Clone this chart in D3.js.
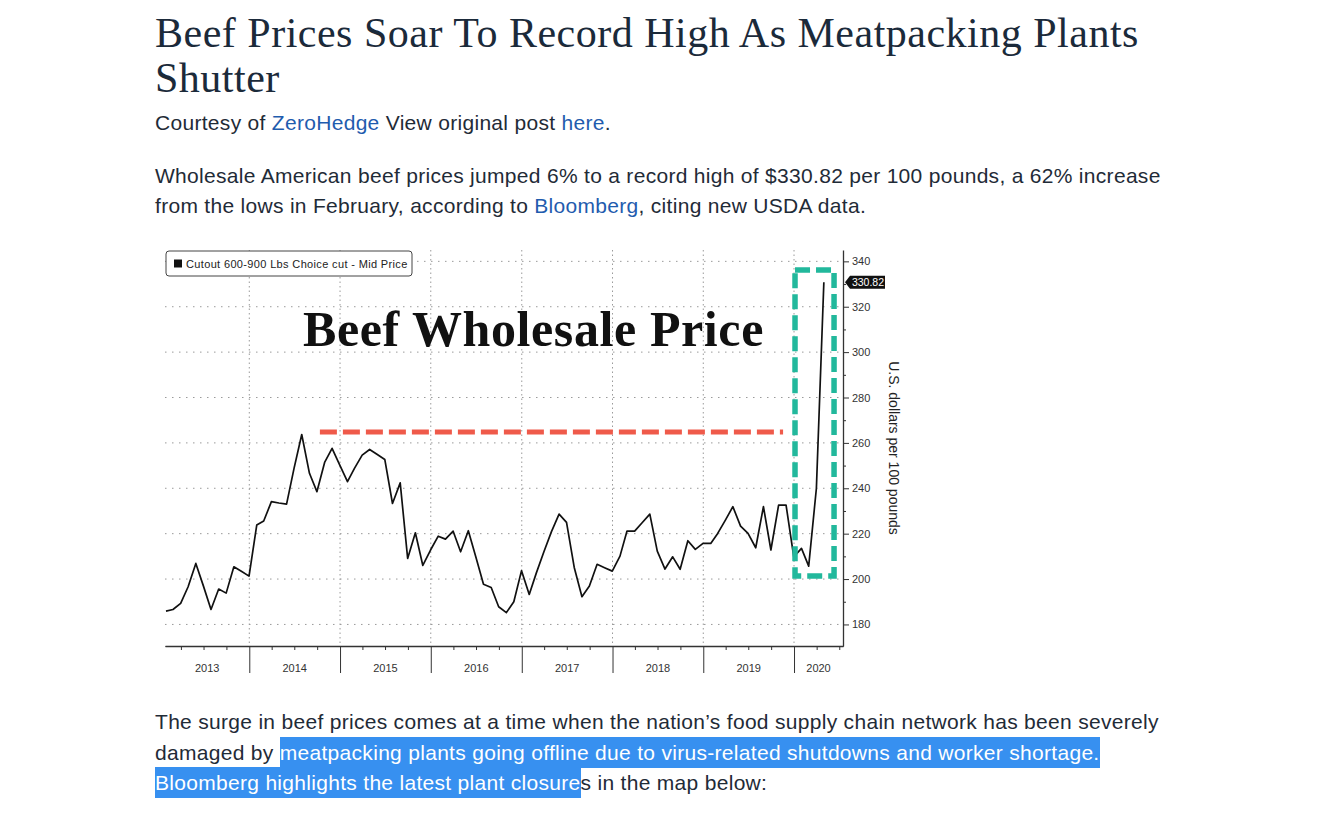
<!DOCTYPE html>
<html>
<head>
  <meta charset="utf-8">
  <script src="https://cdn.jsdelivr.net/npm/d3@7"></script>
  <style>
    body {
      margin: 0;
      background: #fff;
      width: 1337px;
      height: 833px;
      position: relative;
      overflow: hidden;
    }
    .txt {
      position: absolute;
      left: 155px;
      white-space: nowrap;
      font-family: "Liberation Sans", Arial, sans-serif;
      font-size: 21px;
      letter-spacing: 0.3px;
      line-height: 30px;
      color: #1f2b37;
    }
    .head {
      font-family: "Liberation Serif", serif;
      font-size: 42px;
      letter-spacing: 0.5px;
      line-height: 45px;
      color: #1b2a3a;
    }
    a { color: #1f5cae; text-decoration: none; }
    .sel { background: #3790f0; color: #fff; padding: 4px 0; }
    svg { position: absolute; left: 0; top: 0; }
    .grid { stroke: #9a9a9a; stroke-width: 1; stroke-dasharray: 1.5, 5.5; fill: none; }
    .vgrid { stroke: #9a9a9a; stroke-width: 1; stroke-dasharray: 1.5, 3; fill: none; }
    .axis text { font-family: "Liberation Sans", Arial, sans-serif; font-size: 10.5px; fill: #333; }
    .axis path, .axis line { stroke: #333; }
  </style>
</head>
<body>
<script>
const W = 1337;
const H = 833;

// monthly mid price, month-end readings
const prices2013 = [185.9, 186.6, 189.3, 196.6, 206.9, 197.1, 186.6, 195.6, 193.8, 205.4, 203.4, 201.3];
const prices2014 = [223.8, 225.6, 234.1, 233.5, 233.0, 248.8, 263.7, 246.6, 238.5, 251.4, 257.6, 250.2];
const prices2015 = [242.9, 248.8, 254.6, 257.1, 254.9, 252.7, 233.3, 242.4, 209.1, 220.4, 206.0, 212.8];
const prices2016 = [218.9, 217.6, 221.1, 212.0, 221.3, 209.8, 197.7, 196.3, 187.8, 185.2, 190.0, 203.7];
const prices2017 = [193.2, 202.5, 212.0, 220.8, 228.6, 225.0, 205.1, 192.2, 196.9, 206.5, 205.0, 203.5];
const prices2018 = [210.1, 221.1, 221.1, 224.8, 228.6, 212.3, 204.4, 209.8, 204.3, 216.9, 213.1, 215.7];
const prices2019 = [215.7, 220.1, 226.0, 231.9, 223.3, 220.1, 213.8, 231.9, 212.8, 232.6, 232.6, 209.8];
const prices2020 = [213.5, 205.7, 240.0, 330.82];

const years = [2013, 2014, 2015, 2016, 2017, 2018, 2019, 2020];
const yTicks = [180, 200, 220, 240, 260, 280, 300, 320, 340];
const yMinor = [190, 210, 230, 250, 270, 290, 310, 330];
const lastValue = 330.82;
const legendLabel = "Cutout 600-900 Lbs Choice cut - Mid Price";
const yTitle = "U.S. dollars per 100 pounds";
const chartTitle = "Beef Wholesale Price";

// annotations (in data terms)
const resistDates = ["2014-10-12", "2019-11-18"];
const resistValue = 264.8;
const boxDates = ["2020-01-05", "2020-06-10"];
const boxValues = [201.3, 336.2];

const allPrices = [prices2013, prices2014, prices2015, prices2016,
                   prices2017, prices2018, prices2019, prices2020];
let data = [];
allPrices.forEach((arr, i) => {
  arr.forEach((v, m) => {
    // last day of the month
    data.push({ date: new Date(years[i], m + 1, 0), value: v });
  });
});

/* ---------- article text ---------- */
const body = d3.select("body");

body.append("div").attr("class", "txt head").style("top", "11px")
  .html("Beef Prices Soar To Record High As Meatpacking Plants<br>Shutter");

body.append("div").attr("class", "txt").style("top", "108px")
  .html('Courtesy of <a>ZeroHedge</a> View original post <a>here</a>.');

body.append("div").attr("class", "txt").style("top", "161px")
  .html('Wholesale American beef prices jumped 6% to a record high of $330.82 per 100 pounds, a 62% increase<br>' +
        'from the lows in February, according to <a>Bloomberg</a>, citing new USDA data.');

body.append("div").attr("class", "txt").style("top", "707px").style("line-height", "30.5px")
  .html('The surge in beef prices comes at a time when the nation\u2019s food supply chain network has been severely<br>' +
        'damaged by <span class="sel">meatpacking plants going offline due to virus-related shutdowns and worker shortage.</span><br>' +
        '<span class="sel">Bloomberg highlights the latest plant closure</span>s in the map below:');

/* ---------- chart ---------- */
const svg = body.append("svg")
  .attr("width", W)
  .attr("height", H);

const x = d3.scaleTime()
  .domain([new Date(2013, 0, 27), new Date(2020, 6, 16)])
  .range([165, 843]);

const y = d3.scaleLinear()
  .domain([170.5, 345])
  .range([646, 250]);

const [x0, x1] = x.range();
const [yb, yt] = y.range();

// horizontal dotted grid
svg.append("g").selectAll("line").data(yTicks).join("line")
  .attr("class", "grid")
  .attr("x1", x0).attr("x2", x1)
  .attr("y1", d => y(d)).attr("y2", d => y(d));

// vertical dotted grid at year starts
const yearStarts = years.slice(1).map(yr => new Date(yr, 0, 1));
svg.append("g").selectAll("line").data(yearStarts).join("line")
  .attr("class", "vgrid")
  .attr("x1", d => x(d)).attr("x2", d => x(d))
  .attr("y1", yt).attr("y2", yb);

// bottom axis: quarter ticks
const quarters = d3.timeMonth.every(3).range(new Date(2013, 3, 1), x.domain()[1])
  .filter(d => d.getMonth() !== 0);
svg.append("g").attr("class", "axis")
  .attr("transform", "translate(0," + yb + ")")
  .call(d3.axisBottom(x).tickValues(quarters).tickSize(4).tickSizeOuter(0).tickFormat(""))
  .call(g => g.selectAll(".tick line").attr("stroke", "#666"));

// bottom axis: year separators
svg.append("g").attr("class", "axis")
  .attr("transform", "translate(0," + yb + ")")
  .call(d3.axisBottom(x).tickValues(yearStarts).tickSize(27).tickSizeOuter(0).tickFormat(""))
  .call(g => g.select(".domain").attr("stroke", "#222").attr("stroke-width", 1.3))
  .call(g => g.selectAll(".tick line").attr("stroke", "#888"));

// year labels centred in their visible span
svg.append("g").attr("class", "axis").selectAll("text").data(years).join("text")
  .attr("x", yr => {
    const a = Math.max(x(new Date(yr, 0, 1)), x0);
    const b = Math.min(x(new Date(yr + 1, 0, 1)), x1);
    return (a + b) / 2;
  })
  .attr("y", yb + 26)
  .attr("text-anchor", "middle")
  .style("font-size", "11px")
  .text(d => d);

// right axis
svg.append("g").attr("class", "axis")
  .attr("transform", "translate(" + x1 + ",0)")
  .call(d3.axisRight(y).tickValues(yMinor).tickSize(3).tickSizeOuter(0).tickFormat(""))
  .call(g => g.select(".domain").remove());

svg.append("g").attr("class", "axis")
  .attr("transform", "translate(" + x1 + ",0)")
  .call(d3.axisRight(y).tickValues(yTicks).tickSize(6).tickPadding(3).tickSizeOuter(0))
  .call(g => g.select(".domain").attr("stroke", "#222").attr("stroke-width", 1.3))
  .call(g => g.selectAll("text").style("font-size", "11px"));

// y axis title
svg.append("text")
  .attr("transform", "translate(889," + ((yt + yb) / 2) + ") rotate(90)")
  .attr("text-anchor", "middle")
  .style("font-family", "Liberation Sans, Arial, sans-serif")
  .style("font-size", "14px")
  .attr("fill", "#222")
  .text(yTitle);

// price line
const line = d3.line()
  .x(d => x(d.date))
  .y(d => y(d.value));

svg.append("path")
  .datum(data)
  .attr("d", line)
  .attr("fill", "none")
  .attr("stroke", "#111")
  .attr("stroke-width", 1.7)
  .attr("stroke-linejoin", "round");

// red dashed resistance line
svg.append("line")
  .attr("x1", x(new Date(resistDates[0]))).attr("x2", x(new Date(resistDates[1])))
  .attr("y1", y(resistValue)).attr("y2", y(resistValue))
  .attr("stroke", "#ef5a4a")
  .attr("stroke-width", 5)
  .attr("stroke-dasharray", "17,6");

// teal dashed box
const bx0 = x(new Date(boxDates[0])), bx1 = x(new Date(boxDates[1]));
const by0 = y(boxValues[1]), by1 = y(boxValues[0]);
svg.append("rect")
  .attr("x", bx0).attr("y", by0)
  .attr("width", bx1 - bx0).attr("height", by1 - by0)
  .attr("fill", "none")
  .attr("stroke", "#22b89c")
  .attr("stroke-width", 5.5)
  .attr("stroke-dasharray", "15,6");

// last value tag
const ty = y(lastValue);
svg.append("path")
  .attr("d", `M${x1 + 2},${ty} L${x1 + 7},${ty - 6.5} L${x1 + 42},${ty - 6.5} L${x1 + 42},${ty + 6.5} L${x1 + 7},${ty + 6.5} Z`)
  .attr("fill", "#111");
svg.append("text")
  .attr("x", x1 + 25).attr("y", ty + 3.8)
  .attr("text-anchor", "middle")
  .style("font-family", "Liberation Sans, Arial, sans-serif")
  .style("font-size", "10.5px")
  .attr("fill", "#fff")
  .text(lastValue.toFixed(2));

// legend
const lg = svg.append("g").attr("transform", "translate(166,251)");
lg.append("rect")
  .attr("width", 246).attr("height", 25).attr("rx", 3)
  .attr("fill", "#fff").attr("stroke", "#444").attr("stroke-width", 1);
lg.append("rect")
  .attr("x", 8).attr("y", 8.5).attr("width", 8).attr("height", 8)
  .attr("fill", "#111");
lg.append("text")
  .attr("x", 20).attr("y", 16.8)
  .style("font-family", "Liberation Sans, Arial, sans-serif")
  .style("font-size", "11px")
  .style("letter-spacing", "0.35px")
  .attr("fill", "#222")
  .text(legendLabel);

// big chart title
svg.append("text")
  .attr("x", 303).attr("y", 346)
  .style("font-family", "Liberation Serif, serif")
  .style("font-weight", "bold")
  .style("font-size", "50px")
  .style("letter-spacing", "0.6px")
  .attr("fill", "#111")
  .text(chartTitle);
</script>
</body>
</html>
